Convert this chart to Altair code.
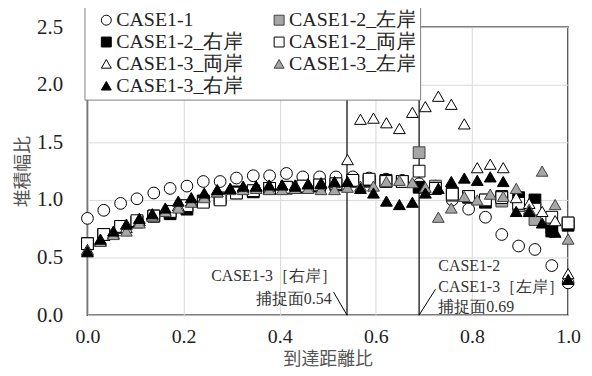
import altair as alt
import pandas as pd

# ---- data ----
SERIES = ["CASE1-1", "CASE1-2_左岸", "CASE1-2_右岸", "CASE1-2_両岸",
          "CASE1-3_両岸", "CASE1-3_左岸", "CASE1-3_右岸"]
SHAPES = ["circle", "square", "square", "square", "triangle-up", "triangle-up", "triangle-up"]
FILLS = ["white", "#a6a6a6", "black", "white", "white", "#a6a6a6", "black"]
STROKES = ["black", "#404040", "black", "black", "black", "#404040", "black"]

X12 = [0.000, 0.034, 0.069, 0.103, 0.138, 0.172, 0.207, 0.241, 0.276, 0.310,
       0.345, 0.379, 0.414, 0.448, 0.483, 0.517, 0.552, 0.586, 0.621, 0.655,
       0.690, 0.724, 0.759, 0.793, 0.828, 0.862, 0.897, 0.931, 0.966, 1.000]
X13 = [0.000, 0.027, 0.054, 0.081, 0.108, 0.135, 0.162, 0.189, 0.216, 0.243,
       0.270, 0.297, 0.324, 0.351, 0.378, 0.405, 0.432, 0.459, 0.486, 0.514,
       0.541, 0.568, 0.595, 0.622, 0.649, 0.676, 0.703, 0.730, 0.757, 0.784,
       0.811, 0.838, 0.865, 0.892, 0.919, 0.946, 0.973, 1.000]

Y_CASE1_1 = [0.84, 0.91, 0.97, 1.01, 1.06, 1.10, 1.12, 1.16, 1.16, 1.19,
             1.21, 1.21, 1.23, 1.20, 1.20, 1.20, 1.20, 1.19, 1.18, 1.17,
             1.14, 1.12, 1.00, 0.92, 0.85, 0.70, 0.60, 0.57, 0.43, 0.28]
Y_CASE1_2_L = [0.62, 0.70, 0.76, 0.81, 0.86, 0.90, 0.95, 0.99, 1.02, 1.06,
               1.08, 1.10, 1.10, 1.12, 1.13, 1.14, 1.16, 1.16, 1.16, 1.16,
               1.41, 1.12, 1.04, 1.02, 1.00, 0.99, 0.95, 0.83, 0.76, 0.80]
Y_CASE1_2_R = [0.62, 0.70, 0.77, 0.81, 0.86, 0.88, 0.92, 0.99, 1.01, 1.07,
               1.07, 1.10, 1.11, 1.11, 1.12, 1.13, 1.17, 1.17, 1.17, 1.16,
               1.11, 1.10, 1.06, 1.03, 0.98, 1.03, 1.02, 1.00, 0.73, 0.78]
Y_CASE1_2_B = [0.62, 0.70, 0.77, 0.82, 0.86, 0.90, 0.95, 0.98, 1.00, 1.06,
               1.08, 1.10, 1.11, 1.12, 1.13, 1.14, 1.17, 1.18, 1.16, 1.16,
               1.25, 1.10, 1.05, 1.03, 1.00, 1.02, 0.97, 0.92, 0.85, 0.80]
Y_CASE1_3_B = [0.57, 0.65, 0.71, 0.76, 0.82, 0.87, 0.91, 0.95, 0.99, 1.03,
               1.07, 1.10, 1.11, 1.12, 1.12, 1.13, 1.13, 1.14, 1.15, 1.15,
               1.35, 1.70, 1.71, 1.67, 1.62, 1.76, 1.81, 1.90, 1.83, 1.66,
               1.28, 1.31, 1.28, 1.02, 0.97, 0.90, 0.82, 0.36]
Y_CASE1_3_L = [0.56, 0.64, 0.70, 0.73, 0.80, 0.86, 0.90, 0.93, 0.98, 1.02,
               1.07, 1.09, 1.09, 1.10, 1.09, 1.09, 1.10, 1.10, 1.09, 1.09,
               1.11, 1.12, 1.12, 1.16, 1.17, 1.15, 1.11, 0.85, 0.93, 1.03,
               1.00, 1.05, 1.03, 1.10, 0.92, 1.25, 0.96, 0.66]
Y_CASE1_3_R = [0.55, 0.66, 0.73, 0.79, 0.84, 0.88, 0.93, 0.99, 1.02, 1.06,
               1.09, 1.10, 1.12, 1.12, 1.13, 1.13, 1.12, 1.14, 1.14, 1.16,
               1.16, 1.10, 1.06, 0.99, 0.96, 0.98, 1.06, 1.10, 1.16, 1.19,
               1.17, 1.20, 1.16, 0.90, 0.90, 0.80, 0.72, 0.31]

SERIES_X = [X12, X12, X12, X12, X13, X13, X13]
SERIES_Y = [Y_CASE1_1, Y_CASE1_2_L, Y_CASE1_2_R, Y_CASE1_2_B,
            Y_CASE1_3_B, Y_CASE1_3_L, Y_CASE1_3_R]

# capture-face lines and annotations
CAPTURE_X = [0.54, 0.69]
LEADER_X1 = [0.512, 0.69]
LEADER_Y1 = [0.20, 0.0]
LEADER_X2 = [0.54, 0.724]
LEADER_Y2 = [0.0, 0.224]
ANN_TEXT = ["CASE1-3［右岸］", "捕捉面0.54", "CASE1-2", "CASE1-3［左岸］", "捕捉面0.69"]
ANN_X = [0.519, 0.508, 0.730, 0.730, 0.730]
ANN_Y = [0.336, 0.138, 0.422, 0.241, 0.069]
ANN_ALIGN = ["right", "right", "left", "left", "left"]

# ---- tables ----
rows = []
for name, xs, ys in zip(SERIES, SERIES_X, SERIES_Y):
    for xv, yv in zip(xs, ys):
        rows.append({"x": xv, "y": yv, "series": name})
df = pd.DataFrame(rows)

cap_df = pd.DataFrame({"x": CAPTURE_X})
lead_df = pd.DataFrame({"x": LEADER_X1, "y": LEADER_Y1, "x2": LEADER_X2, "y2": LEADER_Y2})
ann_df = pd.DataFrame({"text": ANN_TEXT, "x": ANN_X, "y": ANN_Y, "align": ANN_ALIGN})

SERIF = "Liberation Serif"
CJK = "Noto Sans CJK JP"

xscale = alt.Scale(domain=[0, 1], nice=False)
yscale = alt.Scale(domain=[0, 2.5], nice=False)

x_enc = alt.X("x:Q", scale=xscale, title="到達距離比",
              axis=alt.Axis(values=[0, 0.2, 0.4, 0.6, 0.8, 1.0], format=".1f",
                            labelFlush=False, titleY=45, titleBaseline="middle"))
y_enc = alt.Y("y:Q", scale=yscale, title="堆積幅比",
              axis=alt.Axis(values=[0, 0.5, 1.0, 1.5, 2.0, 2.5], format=".1f",
                            labelFlush=False, titleX=-64, titleBaseline="middle"))

cap = alt.Chart(cap_df).mark_rule(color="black", strokeWidth=1.2).encode(
    x=alt.X("x:Q", scale=xscale))

leads = alt.Chart(lead_df).mark_rule(color="black", strokeWidth=1).encode(
    x=alt.X("x:Q", scale=xscale), y=alt.Y("y:Q", scale=yscale),
    x2="x2:Q", y2="y2:Q")

legend = alt.Legend(title=None, orient="none", legendX=-3, legendY=-21,
                    columns=2, direction="horizontal")

points = alt.Chart(df).mark_point(size=140, opacity=1, fillOpacity=1, strokeWidth=1).encode(
    x=x_enc, y=y_enc,
    shape=alt.Shape("series:N", scale=alt.Scale(domain=SERIES, range=SHAPES), legend=legend),
    fill=alt.Fill("series:N", scale=alt.Scale(domain=SERIES, range=FILLS), legend=legend),
    stroke=alt.Stroke("series:N", scale=alt.Scale(domain=SERIES, range=STROKES), legend=legend),
    order=alt.Order("idx:Q"),
).transform_window(idx="row_number()")

texts_r = alt.Chart(ann_df).transform_filter("datum.align == 'right'").mark_text(
    align="right", baseline="middle", font=SERIF, fontSize=16, color="#333333").encode(
    x=alt.X("x:Q", scale=xscale), y=alt.Y("y:Q", scale=yscale), text="text:N")
texts_l = alt.Chart(ann_df).transform_filter("datum.align == 'left'").mark_text(
    align="left", baseline="middle", font=SERIF, fontSize=16, color="#333333").encode(
    x=alt.X("x:Q", scale=xscale), y=alt.Y("y:Q", scale=yscale), text="text:N")

chart = alt.layer(cap, leads, points, texts_r, texts_l).properties(
    width=484, height=290,
    autosize=alt.AutoSizeParams(type="none"),
    padding={"left": 80, "top": 18, "right": 16, "bottom": 56},
).configure_view(
    stroke="black", strokeWidth=1.5
).configure_axis(
    domain=False, ticks=False, grid=True, gridColor="#d9d9d9", gridWidth=1,
    labelFont=SERIF, labelFontSize=21, labelColor="#222222",
    titleFont=CJK, titleFontSize=18, titleColor="#555555", titleFontWeight="normal",
).configure_axisX(
    labelPadding=12, labelFontSize=20
).configure_axisY(
    labelPadding=25
).configure_legend(
    labelFont=SERIF, labelFontSize=20, labelColor="#222222",
    symbolSize=100, symbolStrokeWidth=1, symbolOffset=8,
    fillColor="white", strokeColor="#808080", padding=4,
    rowPadding=2, columnPadding=18, labelOffset=0, labelLimit=300,
)

chart.save("out.html", embed_options={"renderer": "svg", "actions": False})
